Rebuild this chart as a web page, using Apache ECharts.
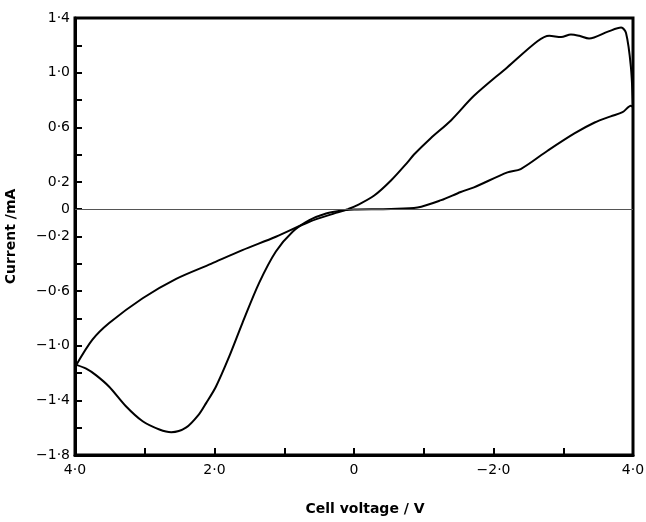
<!DOCTYPE html>
<html>
<head>
<meta charset="utf-8">
<script src="https://cdn.jsdelivr.net/npm/echarts@6/dist/echarts.min.js"></script>
<style>
html,body{margin:0;padding:0;background:#fff;}
#chart{width:646px;height:522px;}
</style>
</head>
<body>
<div id="chart"></div>
<script>
// Branch data: [cell voltage (V), current (mA)]
const upperLeft = [
  [3.98, -1.14], [3.75, -0.956], [3.51, -0.834], [3.03, -0.652], [2.55, -0.51],
  [2.05, -0.40], [1.60, -0.30], [1.12, -0.202], [0.64, -0.092], [0.26, -0.027],
  [0.09, 0.0]
];
const upperRight = [
  [0.09, 0.0], [-0.05, 0.03], [-0.29, 0.10], [-0.53, 0.21], [-0.77, 0.345],
  [-0.86, 0.40], [-1.10, 0.52], [-1.39, 0.65], [-1.72, 0.83], [-2.20, 1.04],
  [-2.63, 1.23], [-2.80, 1.27], [-2.97, 1.26], [-3.11, 1.28], [-3.23, 1.27],
  [-3.37, 1.25], [-3.64, 1.30], [-3.83, 1.33], [-3.90, 1.29], [-3.97, 1.04],
  [-4.0, 0.745]
];
const lowerRight = [
  [-4.0, 0.745], [-3.97, 0.757], [-3.85, 0.71], [-3.68, 0.68], [-3.45, 0.635],
  [-3.16, 0.555], [-2.78, 0.43], [-2.39, 0.294], [-2.20, 0.27], [-1.72, 0.16],
  [-1.53, 0.126], [-1.25, 0.066], [-0.91, 0.012], [-0.53, 0.002], [0.0, -0.002],
  [0.16, -0.007]
];
const lowerLeft = [
  [0.16, -0.007], [0.40, -0.031], [0.64, -0.08], [0.88, -0.165], [1.12, -0.31],
  [1.36, -0.54], [1.60, -0.834], [1.79, -1.08], [1.98, -1.30], [2.12, -1.42],
  [2.22, -1.50], [2.41, -1.60], [2.62, -1.633], [2.79, -1.613], [3.03, -1.553],
  [3.27, -1.443], [3.51, -1.30], [3.70, -1.215], [3.84, -1.168], [3.98, -1.14]
];
const xTickLabels = {"4": "4·0", "2": "2·0", "0": "0", "-2": "−2·0", "-4": "4·0"};
const yTickLabels = {"1.4": "1·4", "1": "1·0", "0.6": "0·6", "0.2": "0·2", "0": "0",
  "-0.2": "−0·2", "-0.6": "−0·6", "-1": "−1·0", "-1.4": "−1·4", "-1.8": "−1·8"};

const chart = echarts.init(document.getElementById('chart'));
const font = 'DejaVu Sans';
function branch(d) {
  return {
    type: 'line', data: d, showSymbol: false, smooth: 0.3,
    lineStyle: {color: '#000', width: 2}, z: 3, silent: true
  };
}
chart.setOption({
  animation: false,
  backgroundColor: '#fff',
  grid: {left: 75, right: 13, top: 18, bottom: 67, show: true, containLabel: false,
    outerBoundsMode: 'none',
    borderColor: '#000', borderWidth: 3, backgroundColor: 'transparent'},
  xAxis: {
    type: 'value', min: -4, max: 4, interval: 1, inverse: true,
    name: 'Cell voltage / V', nameLocation: 'middle', nameGap: 47,
    nameTextStyle: {fontFamily: font, fontWeight: 'bold', fontSize: 14, color: '#000', padding: [0, 0, 0, 22]},
    axisLine: {show: true, onZero: false, lineStyle: {color: '#000', width: 3}},
    axisTick: {show: true, inside: true, length: 7, lineStyle: {color: '#000', width: 2}},
    splitLine: {show: false},
    axisLabel: {
      margin: 8, fontFamily: font, fontSize: 14, color: '#000',
      formatter: v => { const k = String(Math.round(v * 10) / 10); return xTickLabels[k] || ''; }
    }
  },
  yAxis: {
    type: 'value', min: -1.8, max: 1.4, interval: 0.2,
    name: 'Current /mA', nameLocation: 'middle', nameGap: 57, nameRotate: 90,
    nameTextStyle: {fontFamily: font, fontWeight: 'bold', fontSize: 14, color: '#000'},
    axisLine: {show: true, onZero: false, lineStyle: {color: '#000', width: 3}},
    axisTick: {show: true, inside: true, length: 7, lineStyle: {color: '#000', width: 2}},
    splitLine: {show: false},
    axisLabel: {
      margin: 5, fontFamily: font, fontSize: 14, color: '#000',
      formatter: v => { const k = String(Math.round(v * 10) / 10); return yTickLabels[k] || ''; }
    }
  },
  series: [
    branch(upperLeft), branch(upperRight), branch(lowerRight), branch(lowerLeft),
    {
      type: 'line', data: [], silent: true,
      markLine: {silent: true, symbol: 'none', label: {show: false},
        lineStyle: {color: '#555', width: 1, type: 'solid'}, data: [{yAxis: 0}]}
    }
  ]
});
</script>
</body>
</html>
